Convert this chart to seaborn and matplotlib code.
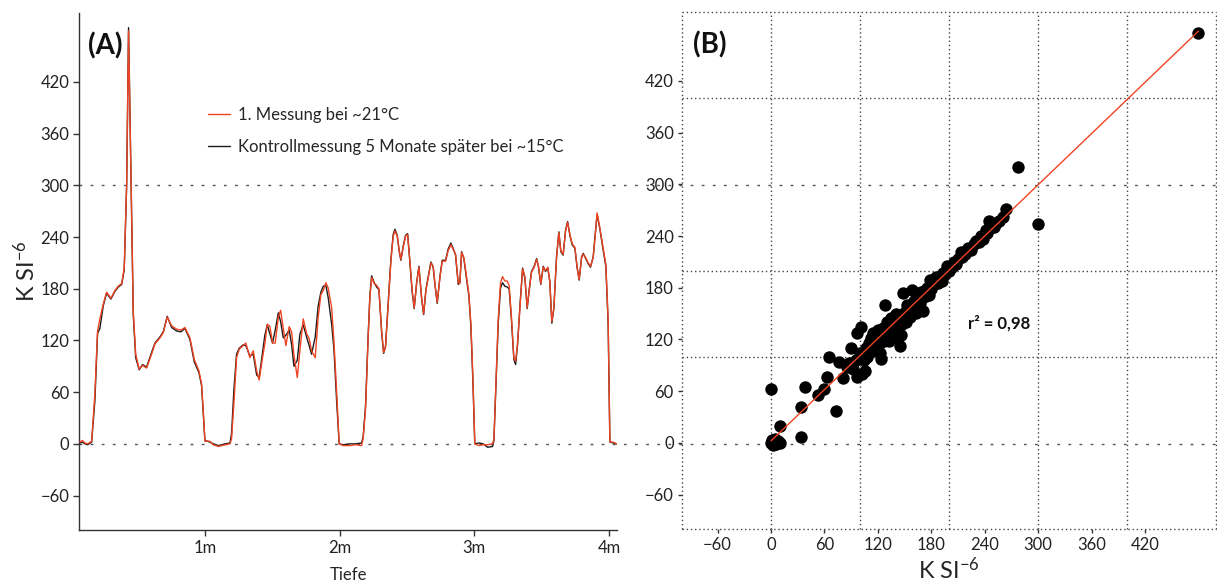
import numpy as np
import pandas as pd
import matplotlib
matplotlib.use("Agg")
import matplotlib.pyplot as plt
import matplotlib.transforms as mtransforms
from matplotlib.lines import Line2D
import seaborn as sns

# --- Panel A: Suszeptibilitätsprofil entlang der Tiefe (m) ---
tiefe = [
    0.072, 0.090, 0.109, 0.130, 0.159, 0.183, 0.203, 0.220, 0.245, 0.270,
    0.302, 0.332, 0.357, 0.382, 0.401, 0.419, 0.433, 0.451, 0.468, 0.486,
    0.512, 0.537, 0.567, 0.604, 0.629, 0.666, 0.691, 0.720, 0.753, 0.790,
    0.822, 0.852, 0.889, 0.921, 0.955, 0.975, 0.988, 1.000, 1.037, 1.062,
    1.100, 1.150, 1.186, 1.198, 1.215, 1.235, 1.255, 1.285, 1.304, 1.334,
    1.359, 1.384, 1.403, 1.428, 1.445, 1.463, 1.483, 1.502, 1.522, 1.545,
    1.562, 1.582, 1.601, 1.626, 1.644, 1.661, 1.686, 1.705, 1.730, 1.755,
    1.774, 1.792, 1.819, 1.841, 1.861, 1.879, 1.898, 1.915, 1.941, 1.958,
    1.978, 1.997, 2.027, 2.077,
    2.120, 2.163, 2.175, 2.193, 2.212, 2.225, 2.238, 2.257, 2.275, 2.292,
    2.312, 2.327, 2.341, 2.361, 2.381, 2.398, 2.411, 2.428, 2.443, 2.455,
    2.472, 2.490, 2.505, 2.522, 2.539, 2.554, 2.572, 2.589, 2.609, 2.624,
    2.641, 2.663, 2.678, 2.695, 2.708, 2.725, 2.745, 2.762, 2.787, 2.806,
    2.826, 2.843, 2.861, 2.881, 2.893, 2.906, 2.923, 2.943, 2.960, 2.975,
    2.990, 3.004, 3.035, 3.066,
    3.100, 3.136, 3.146, 3.160, 3.178, 3.195, 3.210, 3.227, 3.244, 3.259,
    3.277, 3.294, 3.307, 3.321, 3.339, 3.359, 3.376, 3.393, 3.408, 3.425,
    3.445, 3.463, 3.477, 3.494, 3.512, 3.529, 3.546, 3.561, 3.576, 3.591,
    3.611, 3.628, 3.643, 3.660, 3.678, 3.693, 3.710, 3.727, 3.747, 3.764,
    3.779, 3.797, 3.809, 3.828, 3.846, 3.863, 3.883, 3.895, 3.912, 3.932,
    3.952, 3.977, 3.994, 4.007, 4.031, 4.056,
]

messung_1 = [
    2, 4, 1, 0, 3, 58, 131, 145, 162, 176,
    169, 178, 183, 186, 204, 302, 479, 310, 154, 104,
    87, 91, 88, 104, 116, 123, 129, 147, 137, 133,
    132, 135, 123, 98, 85, 70, 38, 3, 3, -1,
    -3, -1, 0, 6, 46, 100, 110, 114, 117, 100,
    108, 85, 74, 100, 116, 139, 136, 117, 117, 147,
    155, 134, 114, 136, 130, 103, 77, 108, 145, 128,
    122, 108, 100, 147, 173, 178, 187, 181, 158, 119,
    61, 0, -2, -2,
    -1, -2, 6, 41, 123, 170, 193, 186, 184, 180,
    132, 106, 112, 162, 212, 241, 247, 241, 224, 214,
    228, 241, 243, 212, 178, 158, 186, 205, 170, 151,
    178, 197, 210, 206, 186, 164, 193, 212, 212, 224,
    231, 226, 220, 187, 186, 222, 216, 193, 174, 139,
    77, 0, -2, -1,
    -1, 0, 6, 68, 145, 187, 194, 189, 189, 184,
    145, 100, 96, 116, 158, 203, 194, 158, 178, 199,
    205, 214, 206, 186, 205, 201, 205, 189, 142, 158,
    216, 245, 224, 220, 247, 257, 243, 232, 228, 205,
    191, 216, 220, 216, 210, 206, 216, 236, 268, 251,
    232, 208, 145, 2, 2, 0,
]

kontrolle = [
    1, 2, 0, -1, 2, 50, 128, 134, 160, 175,
    168, 177, 182, 185, 202, 300, 483, 312, 150, 100,
    86, 92, 89, 106, 117, 124, 130, 148, 135, 131,
    130, 134, 121, 95, 83, 68, 35, 4, 2, 0,
    -2, 0, 1, 12, 62, 104, 111, 115, 114, 102,
    104, 80, 77, 106, 126, 138, 127, 117, 132, 152,
    142, 123, 126, 132, 115, 90, 97, 127, 138, 124,
    114, 104, 124, 160, 176, 183, 184, 170, 139, 110,
    50, 0, -1, 0,
    0, 1, 8, 45, 125, 172, 195, 187, 182, 179,
    130, 105, 113, 164, 214, 243, 249, 242, 223, 213,
    229, 242, 244, 211, 176, 157, 187, 206, 169, 150,
    179, 198, 211, 205, 185, 163, 194, 213, 213, 226,
    233, 227, 219, 185, 187, 223, 215, 191, 172, 136,
    72, 0, 1, 0,
    -4, -3, 4, 64, 140, 181, 187, 183, 182, 180,
    142, 98, 92, 114, 160, 204, 192, 157, 179, 200,
    206, 215, 205, 185, 206, 200, 204, 188, 140, 157,
    217, 246, 223, 219, 248, 258, 242, 231, 227, 204,
    190, 217, 221, 215, 209, 205, 217, 238, 266, 250,
    230, 206, 140, 2, 1, 0,
]

label_1 = "1. Messung bei ~21°C"
label_2 = "Kontrollmessung 5 Monate später bei ~15°C"

# --- Panel B: Messung gegen Kontrollmessung ---
scatter_x = [
    0, 0, 1, 2, 3, 4, 5, 6, 8, 10, 10,
    34, 34, 38, 53, 59, 63, 65, 73, 76, 81, 85, 88, 90, 92, 95, 96, 97,
    100, 101, 102, 104, 105, 107, 108, 110, 111, 112, 114, 115, 117, 118,
    120, 121, 122, 123, 124, 126, 127, 128, 129, 130, 131, 133, 134, 135,
    136, 137, 138, 140, 141, 143, 145, 146, 147, 148, 150, 151, 153, 155,
    156, 158, 160, 162, 163, 165, 167, 168, 170, 171, 172, 174, 175, 177,
    178, 180, 182, 184, 185, 187, 190, 192, 193, 195, 198, 200, 203, 205,
    208, 210, 213, 215, 218, 221, 225, 228, 230, 233, 236, 238, 241, 243,
    245, 248, 250, 253, 256, 260, 264, 277, 300, 480,
]
scatter_y = [
    62, 0, 3, -2, 1, 4, 0, -1, 2, 0, 20,
    7, 42, 65, 55, 62, 77, 100, 37, 94, 75, 88, 93, 110, 86, 96, 127, 77,
    104, 135, 80, 96, 83, 110, 100, 116, 105, 122, 108, 128, 112, 120,
    131, 115, 104, 97, 126, 133, 118, 160, 125, 140, 128, 118, 137, 145,
    130, 123, 142, 150, 135, 148, 112, 125, 138, 174, 152, 140, 160, 150,
    146, 177, 165, 158, 151, 170, 162, 175, 168, 153, 176, 170, 180, 172,
    189, 178, 183, 186, 193, 185, 191, 188, 197, 196, 205, 199, 204, 210,
    208, 213, 222, 216, 219, 226, 224, 231, 234, 233, 240, 237, 247, 244,
    257, 250, 251, 255, 257, 262, 271, 320, 254, 476,
]

y_ticks = [-60, 0, 60, 120, 180, 240, 300, 360, 420]
x_ticks_a = [1, 2, 3, 4]
x_ticklabels_a = ["1m", "2m", "3m", "4m"]
x_ticks_b = [-60, 0, 60, 120, 180, 240, 300, 360, 420]
grid_vertical = [-100, 0, 100, 200, 300, 400, 500]
grid_horizontal = [-100, 100, 200, 400, 500]
reference_levels = [0, 300]

RED = "#ef4423"
BLACK = "#1b1b1b"
SPINE = "#333333"

sns.set_style("ticks")
plt.rcParams["font.family"] = ["Lato", "DejaVu Sans"]
plt.rcParams["mathtext.default"] = "regular"

fig = plt.figure(figsize=(12.17, 5.82), dpi=100)
ax_a = fig.add_axes([0.0649, 0.0893, 0.4421, 0.8884])
ax_b = fig.add_axes([0.5604, 0.0910, 0.4390, 0.8884])
ax_a.set_facecolor("none")
ax_b.set_facecolor("none")

# ---- Panel A ----
sns.lineplot(x=tiefe, y=kontrolle, ax=ax_a, color=BLACK, lw=1.0, label=label_2, zorder=3)
sns.lineplot(x=tiefe, y=messung_1, ax=ax_a, color=RED, lw=1.0, label=label_1, zorder=4)

ax_a.set_xlim(0.065, 4.06)
ax_a.set_ylim(-100, 500)
ax_a.set_yticks(y_ticks)
ax_a.set_xticks(x_ticks_a)
ax_a.set_xticklabels(x_ticklabels_a)
ax_a.set_xlabel("Tiefe", fontsize=12, labelpad=8)
ax_a.set_ylabel("\u039a SI$^{-6}$", fontsize=17, labelpad=1)
sns.despine(ax=ax_a)
for side in ["left", "bottom"]:
    ax_a.spines[side].set_color(SPINE)
    ax_a.spines[side].set_linewidth(1.0)
ax_a.tick_params(axis="both", length=4, width=1, color=SPINE, labelsize=12,
                 labelcolor="#222222", pad=3)

handles, labels = ax_a.get_legend_handles_labels()
ax_a.legend([handles[1], handles[0]], [labels[1], labels[0]], loc="upper left",
            bbox_to_anchor=(0.24, 0.818), frameon=False, fontsize=12,
            handlelength=1.3, handletextpad=0.5, labelspacing=0.95,
            borderaxespad=0, borderpad=0)
ax_a.text(0.017, 0.936, "(A)", transform=ax_a.transAxes, fontsize=20,
          fontweight="bold", va="center", ha="left", color="#111111")

# ---- Panel B ----
sns.regplot(x=scatter_x, y=scatter_y, ax=ax_b, ci=None, truncate=True,
            scatter_kws=dict(s=80, color="black", linewidths=0, alpha=1, zorder=3),
            line_kws=dict(color=RED, lw=1.0, zorder=4))
ax_b.set_xlim(-100, 500)
ax_b.set_ylim(-100, 500)
ax_b.set_xticks(x_ticks_b)
ax_b.set_yticks(y_ticks)
ax_b.set_xlabel("\u039a SI$^{-6}$", fontsize=17, labelpad=2)
ax_b.set_ylabel("")
for side in ax_b.spines:
    ax_b.spines[side].set_visible(False)
ax_b.tick_params(axis="both", length=3, width=1, color=SPINE, labelsize=12,
                 labelcolor="#222222", pad=3)
for v in grid_vertical:
    ax_b.axvline(v, color="#444444", ls=(0, (1, 2)), lw=1.0, zorder=1, clip_on=False)
for h in grid_horizontal:
    ax_b.axhline(h, color="#444444", ls=(0, (1, 2)), lw=1.0, zorder=1, clip_on=False)
ax_b.text(221, 139, "r\u00b2 = 0,98", fontsize=12, fontweight="bold",
          va="center", ha="left", color="#111111")
ax_b.text(0.02, 0.936, "(B)", transform=ax_b.transAxes, fontsize=20,
          fontweight="bold", va="center", ha="left", color="#111111")

# Referenzlinien bei 0 und 300 über die ganze Abbildung
trans = mtransforms.blended_transform_factory(fig.transFigure, ax_a.transData)
for lvl in reference_levels:
    fig.add_artist(Line2D([0.0649, 1.0], [lvl, lvl], transform=trans,
                          color="#555555", lw=1.0, ls=(0, (2, 6)), zorder=0))

fig.savefig("out.png", dpi=100, facecolor="white")
